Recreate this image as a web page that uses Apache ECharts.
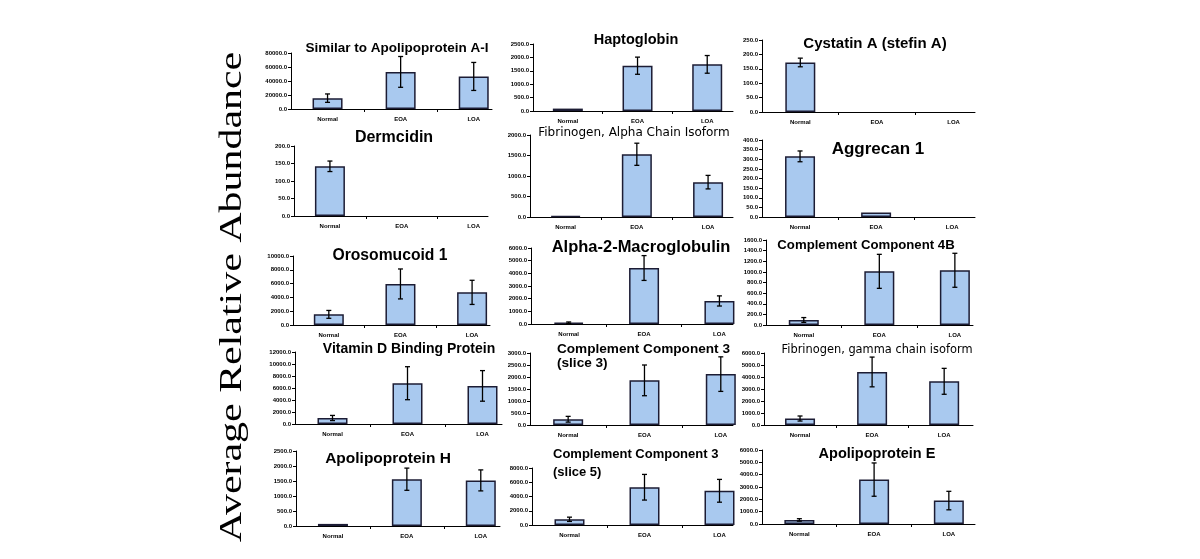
<!DOCTYPE html>
<html><head><meta charset="utf-8">
<script src="https://cdn.jsdelivr.net/npm/echarts@6/dist/echarts.min.js"></script>
<style>html,body{margin:0;padding:0;background:#fff}#c{width:1200px;height:559px}</style>
</head><body><div id="c"></div>
<script>
// ---- data ----
const categories = ['Normal', 'EOA', 'LOA'];
const proteins = ['Similar to Apolipoprotein A-I', 'Haptoglobin', 'Cystatin A (stefin A)', 'Dermcidin',
  'Fibrinogen, Alpha Chain Isoform', 'Aggrecan 1', 'Orosomucoid 1', 'Alpha-2-Macroglobulin',
  'Complement Component 4B', 'Vitamin D Binding Protein', 'Complement Component 3\n(slice 3)',
  'Fibrinogen, gamma chain isoform', 'Apolipoprotein H', 'Complement Component 3\n(slice 5)', 'Apolipoprotein E'];
const normalMean = [15500, 90, 172, 142, 25, 315, 1540, 100, 95, 1000, 240, 540, 70, 800, 330];
const normalErr  = [6000, 0, 15, 15, 0, 28, 570, 60, 45, 430, 120, 210, 0, 300, 100];
const eoaMean    = [53000, 1690, 0, 0, 1530, 23, 5950, 4420, 1010, 6800, 1860, 4420, 1560, 5300, 3600];
const eoaErr     = [22000, 320, 0, 0, 270, 0, 2170, 980, 320, 2750, 640, 1240, 370, 1800, 1350];
const loaMean    = [46500, 1740, 0, 0, 850, 0, 4730, 1820, 1030, 6350, 2120, 3640, 1520, 4800, 1900];
const loaErr     = [20000, 330, 0, 0, 165, 0, 1750, 400, 320, 2550, 720, 1080, 350, 1600, 750];
const axisMax    = [80000, 2500, 250, 200, 2000, 400, 10000, 6000, 1600, 12000, 3000, 6000, 2500, 8000, 6000];
const axisStep   = [20000, 500, 50, 50, 500, 50, 2000, 1000, 200, 2000, 500, 1000, 500, 2000, 1000];
const yTitle = 'Average Relative Abundance';

// ---- layout (pixels) ----
const layout = [
  {grid:[291,53,201,56],  xmax:2.75, t:{x:397,y:40,size:13.5}},
  {grid:[533,44,200,67],  xmax:2.87, t:{x:636,y:31,size:14.5}},
  {grid:[762,40,213,72],  xmax:2.78, t:{x:875,y:35,size:15}},
  {grid:[294,146,194,70], xmax:2.7,  t:{x:394,y:128,size:16}},
  {grid:[530,135,203,82], xmax:2.85, t:{x:634,y:126,size:12,weight:'normal',family:'DejaVu Sans'}},
  {grid:[762,140,213,77], xmax:2.8,  t:{x:878,y:139,size:17}},
  {grid:[293,256,197,69], xmax:2.75, t:{x:390,y:246,size:15.7}},
  {grid:[531,248,202,76], xmax:2.68, t:{x:641,y:238,size:16.5}},
  {grid:[766,240,207,85], xmax:2.74, t:{x:866,y:237,size:13.2}},
  {grid:[295,352,207,72], xmax:2.76, t:{x:409,y:341,size:14}},
  {grid:[530,353,203,72], xmax:2.66, t:{x:557,y:342,size:13.6,align:'left',lh:14}},
  {grid:[764,353,209,72], xmax:2.9,  t:{x:877,y:343,size:11.4,weight:'normal',family:'DejaVu Sans'}},
  {grid:[296,451,204,75], xmax:2.76, t:{x:388,y:449,size:15.5}},
  {grid:[532,468,201,57], xmax:2.68, t:{x:553,y:445,size:13,align:'left',lh:18}},
  {grid:[762,450,213,74], xmax:2.85, t:{x:877,y:445,size:14.5}}
];

const grids = [], xAxes = [], yAxes = [], series = [], titles = [];
const labelFont = {fontSize: 6, fontWeight: 'bold', color: '#000', fontFamily: 'Liberation Sans'};
const axisLine = {show: true, lineStyle: {color: '#000', width: 1}};

layout.forEach((p, i) => {
  const [l, t, w, h] = p.grid;
  grids.push({left: l, top: t, width: w, height: h});
  xAxes.push({
    type: 'value', gridIndex: i, min: 0, max: p.xmax,
    axisLine: axisLine,
    axisTick: {show: true, length: 3, customValues: [1, 2], lineStyle: {color: '#000'}},
    axisLabel: Object.assign({margin: 7, customValues: [0.5, 1.5, 2.5],
      formatter: v => categories[Math.floor(v)] || ''}, labelFont),
    splitLine: {show: false}
  });
  yAxes.push({
    type: 'value', gridIndex: i, min: 0, max: axisMax[i], interval: axisStep[i],
    axisLine: axisLine,
    axisTick: {show: true, length: 3, lineStyle: {color: '#000'}},
    axisLabel: Object.assign({margin: 4, formatter: v => v.toFixed(1)}, labelFont),
    splitLine: {show: false}
  });
  const means = [normalMean[i], eoaMean[i], loaMean[i]];
  const errs = [normalErr[i], eoaErr[i], loaErr[i]];
  series.push({
    type: 'bar', xAxisIndex: i, yAxisIndex: i, barWidth: 30, z: 2,
    data: means.map((m, k) => ({value: [k + 0.5, m],
      itemStyle: m > 0 ? undefined : {borderWidth: 0, color: 'transparent'}})),
    itemStyle: {color: '#a9c9ef', borderColor: '#1c1c34', borderWidth: 1.5},
    silent: true, animation: false
  });
  series.push({
    type: 'custom', xAxisIndex: i, yAxisIndex: i, animation: false, silent: true, z: 5,
    data: means.map((m, k) => [k + 0.5, m - errs[k], m + errs[k]]).filter((d, k) => errs[k] > 0),
    encode: {x: 0, y: [1, 2]},
    renderItem: (params, api) => {
      const x = api.value(0);
      const a = api.coord([x, api.value(2)]);
      const b = api.coord([x, api.value(1)]);
      const c = 2.5;
      const st = {stroke: '#000', lineWidth: 1.3};
      return {type: 'group', children: [
        {type: 'line', z2: 10, shape: {x1: a[0], y1: a[1], x2: b[0], y2: b[1]}, style: st},
        {type: 'line', z2: 10, shape: {x1: a[0] - c, y1: a[1], x2: a[0] + c, y2: a[1]}, style: st},
        {type: 'line', z2: 10, shape: {x1: b[0] - c, y1: b[1], x2: b[0] + c, y2: b[1]}, style: st}
      ]};
    }
  });
  const tt = p.t;
  titles.push({
    text: proteins[i], left: tt.x, top: tt.y, padding: 0,
    textAlign: tt.align || 'center',
    textStyle: {fontSize: tt.size, fontWeight: tt.weight || 'bold', color: '#000',
      fontFamily: tt.family || 'Liberation Sans', lineHeight: tt.lh || tt.size * 1.2}
  });
});

const chart = echarts.init(document.getElementById('c'), null, {renderer: 'canvas'});
chart.setOption({
  animation: false,
  backgroundColor: '#fff',
  title: titles,
  grid: grids, xAxis: xAxes, yAxis: yAxes, series: series,
  graphic: [{
    type: 'text', x: 233, y: 297, rotation: Math.PI / 2, scaleX: 1.31,
    style: {text: yTitle, font: '32px "Liberation Serif"', fill: '#000', align: 'center', verticalAlign: 'middle'}
  }]
});
</script></body></html>
